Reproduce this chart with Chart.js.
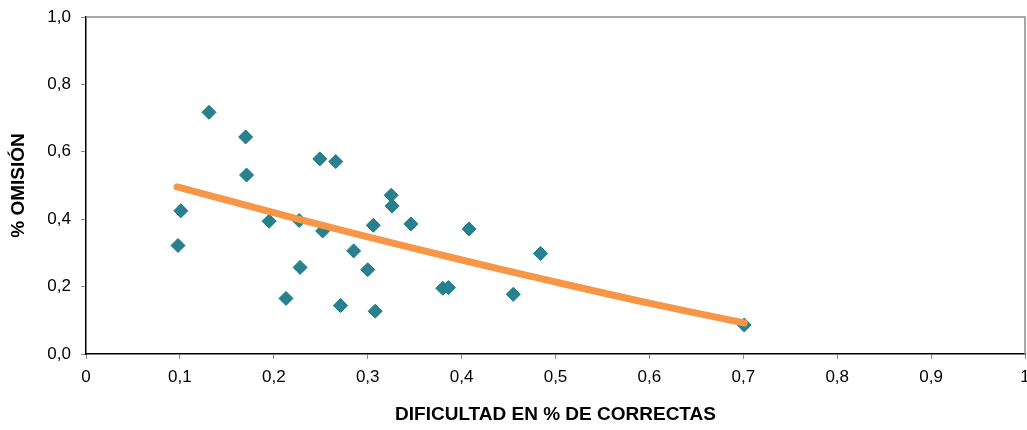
<!DOCTYPE html>
<html lang="es">
<head>
<meta charset="utf-8">
<title>% Omisión vs dificultad</title>
<script src="https://cdn.jsdelivr.net/npm/chart.js@4/dist/chart.umd.min.js"></script>
<style>
  html, body { margin: 0; padding: 0; background: #ffffff; }
  /* canvas is a few pixels wider than the frame so the axis can run to the right edge */
  #wrap { width: 1027px; height: 430px; overflow: hidden; }
  #chart { display: block; }
</style>
</head>
<body>
<div id="wrap"><canvas id="chart" width="1033" height="430"></canvas></div>
<script>
// Difficulty (share of correct answers) and omission rate per item
const dificultad = [0.098, 0.101, 0.131, 0.170, 0.171, 0.195, 0.213, 0.227, 0.228, 0.249, 0.252, 0.266, 0.271,
                    0.285, 0.300, 0.306, 0.308, 0.325, 0.326, 0.346, 0.380, 0.386, 0.408, 0.455, 0.484, 0.701];
const omision    = [0.322, 0.425, 0.717, 0.644, 0.531, 0.394, 0.165, 0.396, 0.257, 0.579, 0.365, 0.571, 0.144,
                    0.306, 0.250, 0.382, 0.127, 0.471, 0.439, 0.386, 0.195, 0.197, 0.371, 0.177, 0.298, 0.086];

// Trend curve, sampled along its length
const tendenciaX = [0.097, 0.217, 0.281, 0.409, 0.473, 0.601, 0.701];
const tendenciaY = [0.496, 0.407, 0.361, 0.273, 0.231, 0.150, 0.092];

// Axis tick labels (decimal comma)
const xTickLabels = ['0', '0,1', '0,2', '0,3', '0,4', '0,5', '0,6', '0,7', '0,8', '0,9', '1'];
const yTickLabels = ['0,0', '0,2', '0,4', '0,6', '0,8', '1,0'];

const FONT = "Arial, 'Liberation Sans', sans-serif";

const puntos = dificultad.map((x, i) => ({ x: x, y: omision[i] }));
const tendencia = tendenciaX.map((x, i) => ({ x: x, y: tendenciaY[i] }));

// Grey frame on the top and right of the plot area
const plotFrame = {
  id: 'plotFrame',
  beforeDatasetsDraw(chart) {
    const { ctx, chartArea: a } = chart;
    ctx.save();
    ctx.strokeStyle = '#8c8c8c';
    ctx.lineWidth = 1.5;
    ctx.beginPath();
    ctx.moveTo(a.left, a.top);
    ctx.lineTo(a.right, a.top);
    ctx.lineTo(a.right, a.bottom);
    ctx.stroke();
    ctx.restore();
  }
};

new Chart(document.getElementById('chart'), {
  type: 'scatter',
  data: {
    datasets: [
      {
        type: 'line',
        label: 'Tendencia',
        data: tendencia,
        order: 0,
        borderColor: '#f79646',
        borderWidth: 7,
        borderCapStyle: 'round',
        borderJoinStyle: 'round',
        tension: 0.4,
        pointRadius: 0,
        fill: false
      },
      {
        label: 'Ítems',
        data: puntos,
        order: 1,
        pointStyle: 'rectRot',
        pointRadius: 7,
        backgroundColor: '#2b8090',
        borderColor: '#137c82',
        borderWidth: 1
      }
    ]
  },
  options: {
    responsive: false,
    animation: false,
    layout: { padding: { top: 17, right: 0, left: 0, bottom: 0 } },
    plugins: { legend: { display: false }, tooltip: { enabled: false } },
    scales: {
      x: {
        type: 'linear',
        min: 0,
        max: 1,
        afterFit(scale) {
          scale.height = 76;
          scale.paddingLeft = 0;
          scale.paddingRight = 0;
        },
        ticks: {
          stepSize: 0.1,
          padding: 8,
          color: '#000',
          font: { family: FONT, size: 17 },
          callback: (v, i) => xTickLabels[i]
        },
        grid: { drawOnChartArea: false, drawTicks: true, tickLength: 5, color: '#8c8c8c', lineWidth: 1 },
        border: { display: true, color: '#000', width: 1.5 },
        title: {
          display: true,
          text: 'DIFICULTAD EN % DE CORRECTAS',
          color: '#000',
          font: { family: FONT, size: 19, weight: 'bold', lineHeight: 1.2 },
          padding: { top: 0, bottom: 4 }
        }
      },
      y: {
        type: 'linear',
        min: 0,
        max: 1,
        afterFit(scale) {
          scale.width = 86;
          scale.paddingTop = 0;
          scale.paddingBottom = 0;
        },
        ticks: {
          stepSize: 0.2,
          padding: 10,
          color: '#000',
          font: { family: FONT, size: 17 },
          callback: (v, i) => yTickLabels[i]
        },
        grid: { drawOnChartArea: false, drawTicks: true, tickLength: 5, color: '#8c8c8c', lineWidth: 1 },
        border: { display: true, color: '#000', width: 1.5 },
        title: {
          display: true,
          text: '% OMISIÓN',
          color: '#000',
          font: { family: FONT, size: 19, weight: 'bold', lineHeight: 1.2 },
          padding: { top: 7, bottom: 0 }
        }
      }
    }
  },
  plugins: [plotFrame]
});
</script>
</body>
</html>
